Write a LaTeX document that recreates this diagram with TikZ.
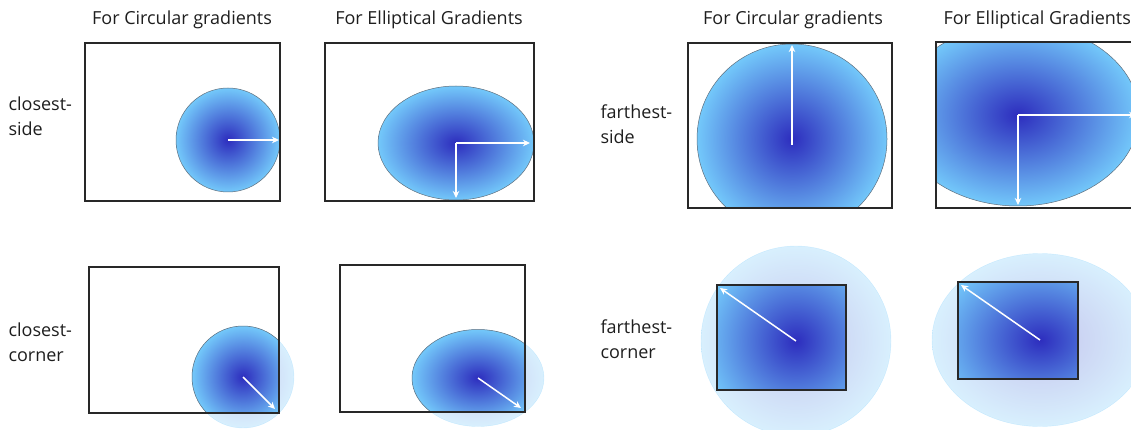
\documentclass[tikz,border=0pt]{standalone}
\usepackage{fontspec}
\setmainfont{Open Sans}
\usetikzlibrary{arrows.meta}
\definecolor{gdark}{RGB}{45,45,190}
\definecolor{glight}{RGB}{115,200,250}
\definecolor{framegray}{RGB}{40,40,40}
\definecolor{edgegray}{RGB}{95,110,125}
\definecolor{inkgray}{RGB}{30,30,30}

\begin{document}
\begin{tikzpicture}[x=1pt, y=-1pt,
  frame/.style={draw=framegray, line width=1.2pt},
  blob/.style={inner color=gdark, outer color=glight, draw=edgegray, line width=0.5pt},
  pale/.style={inner color=gdark, outer color=glight, draw=glight, opacity=0.28},
  ray/.style={draw=white, line width=1.5pt, -{Stealth[length=7pt, width=6.5pt]}},
  heading/.style={font=\fontsize{18}{21}\selectfont, text=inkgray},
  rowlabel/.style={font=\fontsize{18}{25}\selectfont, text=inkgray, align=left, anchor=west}
]
  \useasboundingbox (0,0) rectangle (1131,430);
  \clip (0,0) rectangle (1131,430);

  % column and row titles
  \node[heading] (hcirca) at (182,20) {For Circular gradients};
  \node[heading] (hella) at (429,20) {For Elliptical Gradients};
  \node[heading] (hcircb) at (793,20) {For Circular gradients};
  \node[heading, anchor=west] (hellb) at (940,20) {For Elliptical Gradients};
  \node[rowlabel] (lcside) at (5,116) {closest-\\side};
  \node[rowlabel] (lccorner) at (5,342) {closest-\\corner};
  \node[rowlabel] (lfside) at (597,124) {farthest-\\side};
  \node[rowlabel] (lfcorner) at (597,339) {farthest-\\corner};

  % closest-side
  \coordinate (csc) at (228,140);
  \coordinate (csc-r) at (279,140);
  \shade[blob] (csc) circle [radius=52pt];
  \draw[frame] (85,43) rectangle (280,201);
  \draw[ray] (csc) -- (csc-r);

  \coordinate (cse) at (456,143);
  \coordinate (cse-r) at (530,143);
  \coordinate (cse-d) at (456,198);
  \shade[blob] (cse) ellipse [x radius=78pt, y radius=57pt];
  \draw[frame] (325,43) rectangle (534,201);
  \draw[ray] (cse) -- (cse-r);
  \draw[ray] (cse) -- (cse-d);

  % closest-corner
  \coordinate (ccc) at (243,377);
  \coordinate (ccc-k) at (275,409);
  \shade[pale] (ccc) circle [radius=51pt];
  \begin{scope}
    \clip (89,267) rectangle (279,413);
    \shade[blob] (ccc) circle [radius=51pt];
  \end{scope}
  \draw[frame] (89,267) rectangle (279,413);
  \draw[ray] (ccc) -- (ccc-k);

  \coordinate (cce) at (478,378);
  \coordinate (cce-k) at (521,408);
  \shade[pale] (cce) ellipse [x radius=66pt, y radius=48.5pt];
  \begin{scope}
    \clip (340,265) rectangle (525,412);
    \shade[blob] (cce) ellipse [x radius=66pt, y radius=48.5pt];
  \end{scope}
  \draw[frame] (340,265) rectangle (525,412);
  \draw[ray] (cce) -- (cce-k);

  % farthest-side
  \coordinate (fsc) at (792,139);
  \coordinate (fsc-u) at (792,45);
  \begin{scope}
    \clip (688,43) rectangle (892,208);
    \shade[blob] (fsc) circle [radius=95pt];
  \end{scope}
  \draw[frame] (688,43) rectangle (892,208);
  \draw[ray] (792,145) -- (fsc-u);

  \coordinate (fse) at (1018,115);
  \coordinate (fse-r) at (1136,115);
  \coordinate (fse-d) at (1018,205);
  \begin{scope}
    \clip (936,42) rectangle (1150,208);
    \shade[blob] (fse) ellipse [x radius=121pt, y radius=91pt];
  \end{scope}
  \draw[frame] (936,42) rectangle (1150,208);
  \draw[ray] (fse) -- (fse-r);
  \draw[ray] (fse) -- (fse-d);

  % farthest-corner
  \coordinate (fcc) at (796,341);
  \coordinate (fcc-k) at (720,288);
  \shade[pale] (fcc) circle [radius=95pt];
  \begin{scope}
    \clip (717,285) rectangle (846,390);
    \shade[inner color=gdark, outer color=glight] (fcc) circle [radius=95pt];
  \end{scope}
  \draw[frame] (717,285) rectangle (846,390);
  \draw[ray] (fcc) -- (fcc-k);

  \coordinate (fce) at (1040,340);
  \coordinate (fce-k) at (961,285);
  \shade[pale] (fce) ellipse [x radius=108pt, y radius=86.5pt];
  \begin{scope}
    \clip (958,282) rectangle (1078,379);
    \shade[inner color=gdark, outer color=glight] (fce) ellipse [x radius=108pt, y radius=86.5pt];
  \end{scope}
  \draw[frame] (958,282) rectangle (1078,379);
  \draw[ray] (fce) -- (fce-k);
\end{tikzpicture}
\end{document}
